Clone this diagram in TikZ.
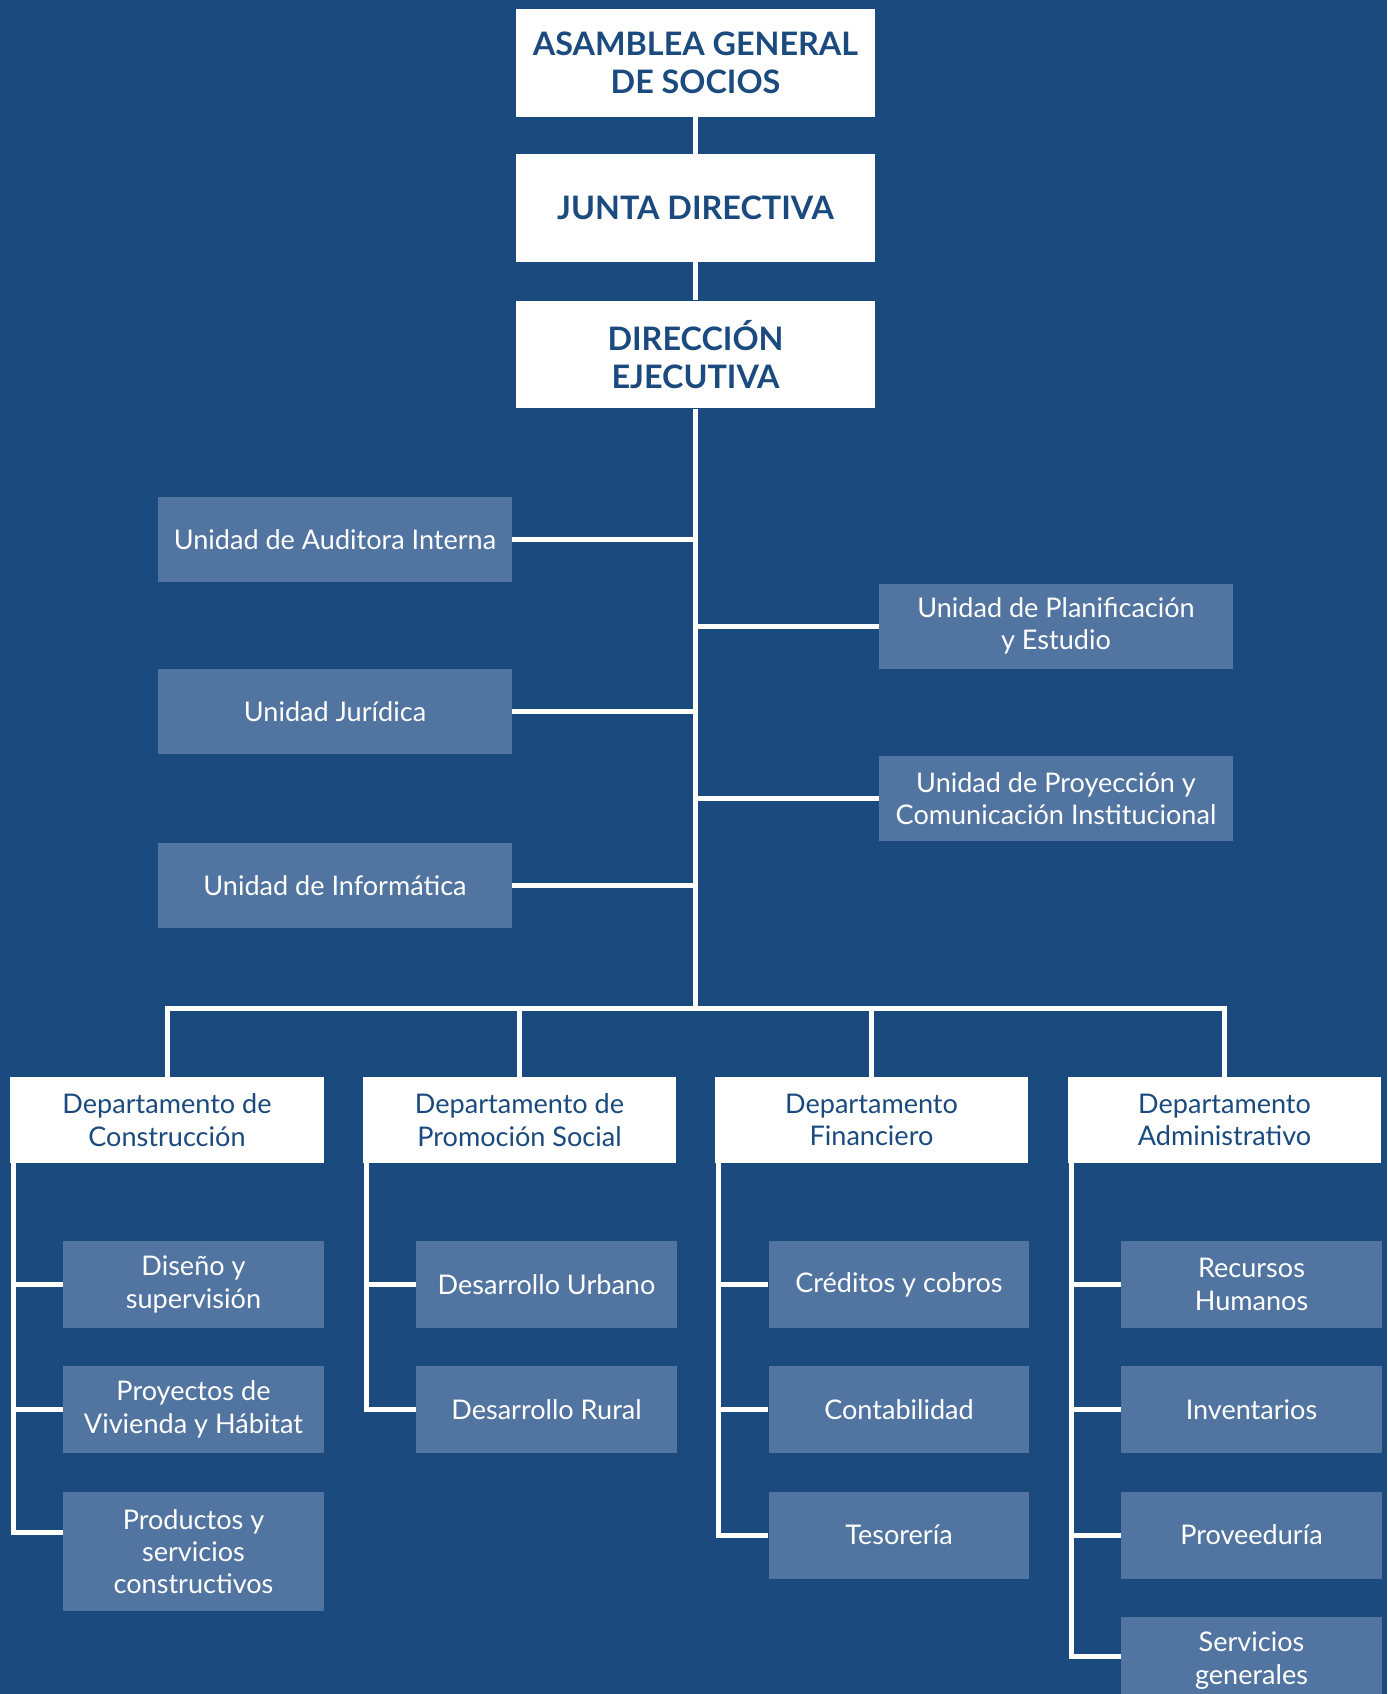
\documentclass[tikz,border=0pt]{standalone}
\usepackage{fontspec}
\setmainfont{Lato}
\definecolor{fondo}{RGB}{26,74,126}
\definecolor{celeste}{RGB}{81,117,160}

\begin{document}
\begin{tikzpicture}[x=0.02cm,y=-0.02cm,
  link/.style={draw=white,line width=0.1cm},
  mando/.style={fill=white,text=fondo,minimum width=7.18cm,minimum height=2.16cm,align=center,font=\fontsize{18.4}{21.5}\selectfont\bfseries},
  unidad/.style={fill=celeste,text=white,minimum width=7.08cm,minimum height=1.7cm,align=center,font=\fontsize{15.4}{18.4}\selectfont},
  depto/.style={fill=white,text=fondo,minimum width=6.28cm,minimum height=1.72cm,align=center,font=\fontsize{15.4}{18.4}\selectfont},
  seccion/.style={fill=celeste,text=white,minimum width=5.22cm,minimum height=1.74cm,align=center,font=\fontsize{15.4}{18.4}\selectfont}]
\fill [fondo] (0,0) rectangle (1387,1694);
\useasboundingbox (0,0) rectangle (1387,1694);
\node [mando] (asamblea) at (695.5,63) {ASAMBLEA GENERAL\\DE SOCIOS};
\node [mando] (junta) at (695.5,208) {JUNTA DIRECTIVA};
\node [mando] (direccion) at (695.5,354.5) {DIRECCIÓN\\EJECUTIVA};
\node [unidad] (auditora) at (335,539.5) {Unidad de Auditora Interna};
\node [unidad] (juridica) at (335,711.5) {Unidad Jurídica};
\node [unidad] (informatica) at (335,885.5) {Unidad de Informática};
\node [unidad] (planificacion) at (1056,626) {Unidad de Planificación\\y Estudio};
\node [unidad] (proyeccion) at (1056,798.5) {Unidad de Proyección y\\Comunicación Institucional};
\node [depto] (construccion) at (167,1120) {Departamento de\\Construcción};
\node [depto] (promocion) at (519.5,1120) {Departamento de\\Promoción Social};
\node [depto] (financiero) at (871.5,1120) {Departamento\\Financiero};
\node [depto] (administrativo) at (1224.5,1120) {Departamento\\Administrativo};
\node [seccion] (diseno) at (193.5,1284.5) {Diseño y\\supervisión};
\node [seccion] (vivienda) at (193.5,1409.5) {Proyectos de\\Vivienda y Hábitat};
\node [seccion,minimum height=2.38cm] (productos) at (193.5,1551.5) {Productos y\\servicios\\constructivos};
\node [seccion] (urbano) at (546.5,1284.5) {Desarrollo Urbano};
\node [seccion] (rural) at (546.5,1409.5) {Desarrollo Rural};
\node [seccion] (creditos) at (899,1284.5) {Créditos y cobros};
\node [seccion] (contabilidad) at (899,1409.5) {Contabilidad};
\node [seccion] (tesoreria) at (899,1535) {Tesorería};
\node [seccion] (recursos) at (1251.5,1284.5) {Recursos\\Humanos};
\node [seccion] (inventarios) at (1251.5,1409.5) {Inventarios};
\node [seccion] (proveeduria) at (1251.5,1535) {Proveeduría};
\node [seccion] (servicios) at (1251.5,1660.5) {Servicios\\generales};
\coordinate (bus) at (695.5,1008);
\coordinate (pr) at ([yshift=0.39cm]productos.west);
\draw [link] (asamblea) -- (junta);
\draw [link] (junta) -- (direccion);
\draw [link] (direccion.south) -- (bus);
\draw [link] (auditora.east) -- (auditora.east -| bus);
\draw [link] (juridica.east) -- (juridica.east -| bus);
\draw [link] (informatica.east) -- (informatica.east -| bus);
\draw [link] (planificacion.west) -- (planificacion.west -| bus);
\draw [link] (proyeccion.west) -- (proyeccion.west -| bus);
\draw [link] (construccion.north) |- (bus) -| (administrativo.north);
\draw [link] (promocion.north) -- (promocion.north |- bus);
\draw [link] (financiero.north) -- (financiero.north |- bus);
\draw [link] ([xshift=0.08cm]construccion.south west) |- (pr);
\draw [link] (diseno.west) -- ++(-48,0);
\draw [link] (vivienda.west) -- ++(-48,0);
\draw [link] ([xshift=0.08cm]promocion.south west) |- (rural.west);
\draw [link] (urbano.west) -- ++(-48,0);
\draw [link] ([xshift=0.08cm]financiero.south west) |- (tesoreria.west);
\draw [link] (creditos.west) -- ++(-48,0);
\draw [link] (contabilidad.west) -- ++(-48,0);
\draw [link] ([xshift=0.08cm]administrativo.south west) |- ([yshift=0.09cm]servicios.west);
\draw [link] (recursos.west) -- ++(-48,0);
\draw [link] (inventarios.west) -- ++(-48,0);
\draw [link] (proveeduria.west) -- ++(-48,0);
\end{tikzpicture}
\end{document}
